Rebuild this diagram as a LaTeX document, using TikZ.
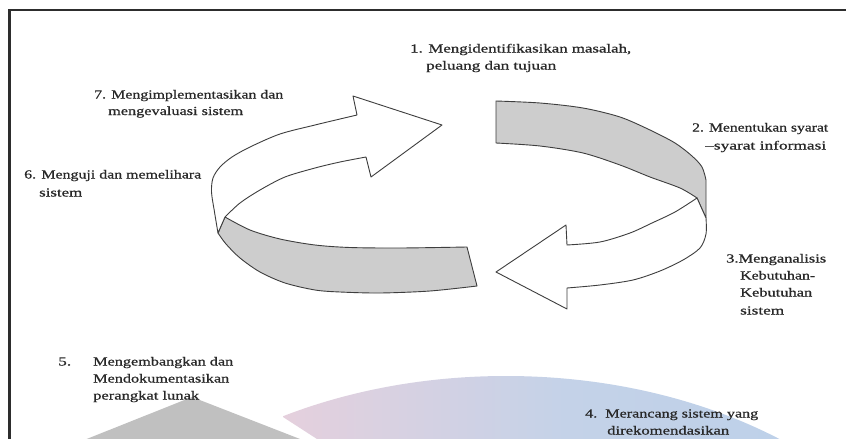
\documentclass[tikz,border=0pt]{standalone}
\usepackage{fontspec}
\setmainfont{Liberation Serif}
\newfontfamily\labelfont[FakeBold=0.7]{Liberation Serif}
\usepackage{graphicx}
% set a line of text to a given width, keeping its natural height
\newcommand{\fitw}[2]{\resizebox{#1pt}{\height}{#2}}
\definecolor{edgegray}{RGB}{62,62,62}
\definecolor{bandgray}{RGB}{205,205,205}
\definecolor{wedgegray}{RGB}{192,192,192}
\definecolor{discpink}{RGB}{229,208,221}
\definecolor{discmid}{RGB}{196,210,232}
\definecolor{discblue}{RGB}{188,208,233}
\definecolor{inkgray}{RGB}{40,40,40}
\definecolor{framegray}{RGB}{45,45,45}

\begin{document}
\begin{tikzpicture}[x=1pt,y=-1pt,
  ribbon/.style={draw=edgegray, line width=0.9pt, line join=round},
  lbl/.style={anchor=base west, inner sep=0pt, text=inkgray, font=\labelfont\fontsize{12.3}{14}\selectfont},
]
\useasboundingbox (0,0) rectangle (846,439);
\clip (0,0) rectangle (846,439);
\fill[white] (0,0) rectangle (846,439);

% large shaded disc at the bottom, cut on its left side
\begin{scope}
  \clip (506,690) ellipse [x radius=455pt, y radius=314pt];
  \clip (283,417) -- (334,450) -- (900,450) -- (900,300) -- (283,300) -- cycle;
  \shade[left color=discpink, right color=discblue, middle color=discmid] (283,370) rectangle (846,445);
\end{scope}

% grey wedge at the bottom left
\fill[wedgegray] (192,397) -- (354,460) -- (34,460) -- cycle;

% front-left grey band
\draw[ribbon, fill=bandgray]
  plot[smooth, tension=0.5] coordinates {(225,217) (250,230) (280,239) (315,245) (350,247.5) (400,248) (467,247)}
  -- plot[smooth, tension=0.5] coordinates {(477,286) (430,291) (380,293) (340,292) (315,290) (285,283) (260,272) (240,258) (226,244) (218,233)}
  -- cycle;

% upper arrow, pointing right
\draw[ribbon, fill=white]
  plot[smooth, tension=0.5] coordinates {(218,233) (214.5,212) (211.5,192) (213,178) (220,167) (232,157) (250,147) (280,134) (315,125) (340,119) (357,115)}
  -- (353,96) -- (442,125) -- (371,177) -- (366,157)
  -- plot[smooth, tension=0.5] coordinates {(366,157) (340,162) (315,168) (285,177) (260,190) (240,203) (225,217)}
  -- cycle;

% back-right grey band
\draw[ribbon, fill=bandgray]
  plot[smooth, tension=0.5] coordinates {(496,101) (540,103) (583,108) (620,117) (650,130) (675,143) (692,156) (702,167) (706,180)}
  -- (706,218) -- (697,198)
  -- plot[smooth, tension=0.5] coordinates {(697,198) (680,188) (650,177) (620,165) (583,153) (540,146) (496,143)}
  -- cycle;

% lower arrow, pointing left
\draw[ribbon, fill=white]
  (697,198) -- (706,218)
  -- plot[smooth, tension=0.5] coordinates {(706,218) (706,234) (700,248) (683,260) (660,271) (633,280) (600,285) (567,288)}
  -- (567,309) -- (496,272) -- (566,225) -- (567,245)
  -- plot[smooth, tension=0.5] coordinates {(567,245) (600,242) (630,233) (652,223) (675,212) (697,198)}
  -- cycle;

% labels
\node[lbl] (t1a) at (410,52.5) {\fitw{221}{1. Mengidentifikasikan masalah,}};
\node[lbl] (t1b) at (426,69.5) {\fitw{130}{peluang dan tujuan}};
\node[lbl] (t7a) at (94,98.5) {\fitw{189}{7. Mengimplementasikan dan}};
\node[lbl] (t7b) at (108,115) {\fitw{135}{mengevaluasi sistem}};
\node[lbl] (t2a) at (692,131.5) {\fitw{136}{2. Menentukan syarat}};
\node[lbl] (t2b) at (705,149.5) {\fitw{121}{–syarat informasi}};
\node[lbl] (t6a) at (24,178.5) {\fitw{177}{6. Menguji dan memelihara}};
\node[lbl] (t6b) at (39,196.5) {\fitw{43}{sistem}};
\node[lbl] (t3a) at (726,262.5) {\fitw{100}{3.Menganalisis}};
\node[lbl] (t3b) at (740,279.5) {\fitw{75}{Kebutuhan-}};
\node[lbl] (t3c) at (740,296.5) {\fitw{72}{Kebutuhan}};
\node[lbl] (t3d) at (740,314.5) {\fitw{44}{sistem}};
\node[lbl] (t5n) at (58,365.5) {\fitw{13}{5.}};
\node[lbl] (t5a) at (93,365.5) {\fitw{140}{Mengembangkan dan}};
\node[lbl] (t5b) at (93,382.5) {\fitw{136}{Mendokumentasikan}};
\node[lbl] (t5c) at (93,399.5) {\fitw{106}{perangkat lunak}};
\node[lbl] (t4a) at (585,417.5) {\fitw{173}{4.\ \ Merancang sistem yang}};
\node[lbl] (t4b) at (607,434.5) {\fitw{122}{direkomendasikan}};

% page frame
\draw[framegray, line width=2.4pt] (850,10) -- (9.5,10) -- (9.5,445);
\end{tikzpicture}
\end{document}
